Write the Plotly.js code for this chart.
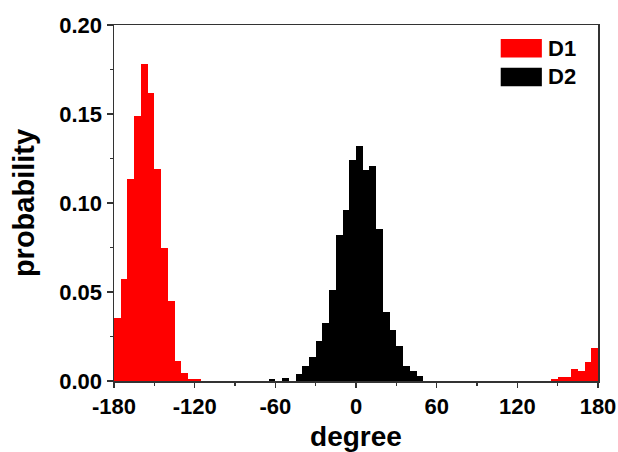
<!DOCTYPE html>
<html>
<head>
<meta charset="utf-8">
<script src="https://cdn.plot.ly/plotly-3.0.1.min.js"></script>
<style>html,body{margin:0;padding:0;background:#fff;}#chart{width:618px;height:452px;}</style>
</head>
<body>
<div id="chart"></div>
<script>
// Histogram bins (bin width 5 degrees), bin centres and probabilities
const binWidth = 5;
const d1Centers = [-177.5, -172.5, -167.5, -162.5, -157.5, -152.5, -147.5, -142.5, -137.5, -132.5, -127.5, -122.5, -117.5,
                   147.5, 152.5, 157.5, 162.5, 167.5, 172.5, 177.5];
const d1Values  = [0.0356, 0.0572, 0.1137, 0.1487, 0.178, 0.162, 0.119, 0.075, 0.045, 0.011, 0.0047, 0.001, 0.001,
                   0.0013, 0.0024, 0.0024, 0.0066, 0.0056, 0.0105, 0.0184];
const d2Centers = [-62.5, -52.5, -42.5, -37.5, -32.5, -27.5, -22.5, -17.5, -12.5, -7.5, -2.5,
                   2.5, 7.5, 12.5, 17.5, 22.5, 27.5, 32.5, 37.5, 42.5, 47.5];
const d2Values  = [0.0009, 0.0015, 0.0038, 0.0086, 0.0137, 0.0225, 0.0325, 0.0512, 0.082, 0.0959, 0.124,
                   0.1319, 0.1184, 0.1206, 0.0853, 0.0385, 0.0287, 0.0199, 0.0084, 0.0058, 0.003];
const seriesNames = ['D1', 'D2'];
const seriesColors = ['#ff0000', '#000000'];
const xTicks = [-180, -120, -60, 0, 60, 120, 180];
const yTicks = [0.00, 0.05, 0.10, 0.15, 0.20];

const font = 'Liberation Sans, Arial, sans-serif';

const traces = [
  {type: 'bar', name: seriesNames[0], x: d1Centers, y: d1Values, width: binWidth,
   marker: {color: seriesColors[0], line: {width: 0}}, showlegend: false},
  {type: 'bar', name: seriesNames[1], x: d2Centers, y: d2Values, width: binWidth,
   marker: {color: seriesColors[1], line: {width: 0}}, showlegend: false}
];

// legend drawn manually with large swatches
const legendRows = [0.935, 0.854];
const shapes = [];
const annotations = [];
seriesNames.forEach((n, i) => {
  const yc = legendRows[i];
  shapes.push({type: 'rect', xref: 'paper', yref: 'paper', x0: 0.799, x1: 0.884,
               y0: yc - 0.026, y1: yc + 0.026, fillcolor: seriesColors[i], line: {width: 0}});
  annotations.push({xref: 'paper', yref: 'paper', x: 0.893, y: yc, xanchor: 'left', yanchor: 'middle',
                    text: '<b>' + n + '</b>', showarrow: false, font: {family: font, size: 22, color: '#000'}});
});

const layout = {
  width: 618, height: 452,
  margin: {l: 114, r: 20, t: 25, b: 71},
  paper_bgcolor: '#fff', plot_bgcolor: '#fff',
  bargap: 0,
  font: {family: font, color: '#000'},
  xaxis: {
    range: [-180, 180], tickvals: xTicks, ticktext: xTicks.map(String),
    showgrid: false, zeroline: false, showline: true, linecolor: '#333', linewidth: 1.5, mirror: true,
    ticks: 'outside', ticklen: 5, tickwidth: 1.5, tickcolor: '#333',
    minor: {dtick: 30, ticks: 'outside', ticklen: 3, tickwidth: 1.2, tickcolor: '#333', showgrid: false},
    tickfont: {family: font, size: 22, color: '#000', weight: 'bold'},
    title: {text: '<b>degree</b>', font: {family: font, size: 28, color: '#000'}, standoff: 9}
  },
  yaxis: {
    range: [0, 0.2], tickvals: yTicks, ticktext: yTicks.map(v => v.toFixed(2)),
    showgrid: false, zeroline: false, showline: true, linecolor: '#333', linewidth: 1.5, mirror: true,
    ticks: 'outside', ticklen: 6, tickwidth: 1.5, tickcolor: '#333',
    minor: {dtick: 0.025, ticks: 'outside', ticklen: 3, tickwidth: 1.2, tickcolor: '#333', showgrid: false},
    tickfont: {family: font, size: 22, color: '#000', weight: 'bold'},
    title: {text: '<b>probability</b>', font: {family: font, size: 29, color: '#000'}, standoff: 16}
  },
  shapes: shapes,
  annotations: annotations
};

Plotly.newPlot('chart', traces, layout, {displayModeBar: false, staticPlot: true});
</script>
</body>
</html>
